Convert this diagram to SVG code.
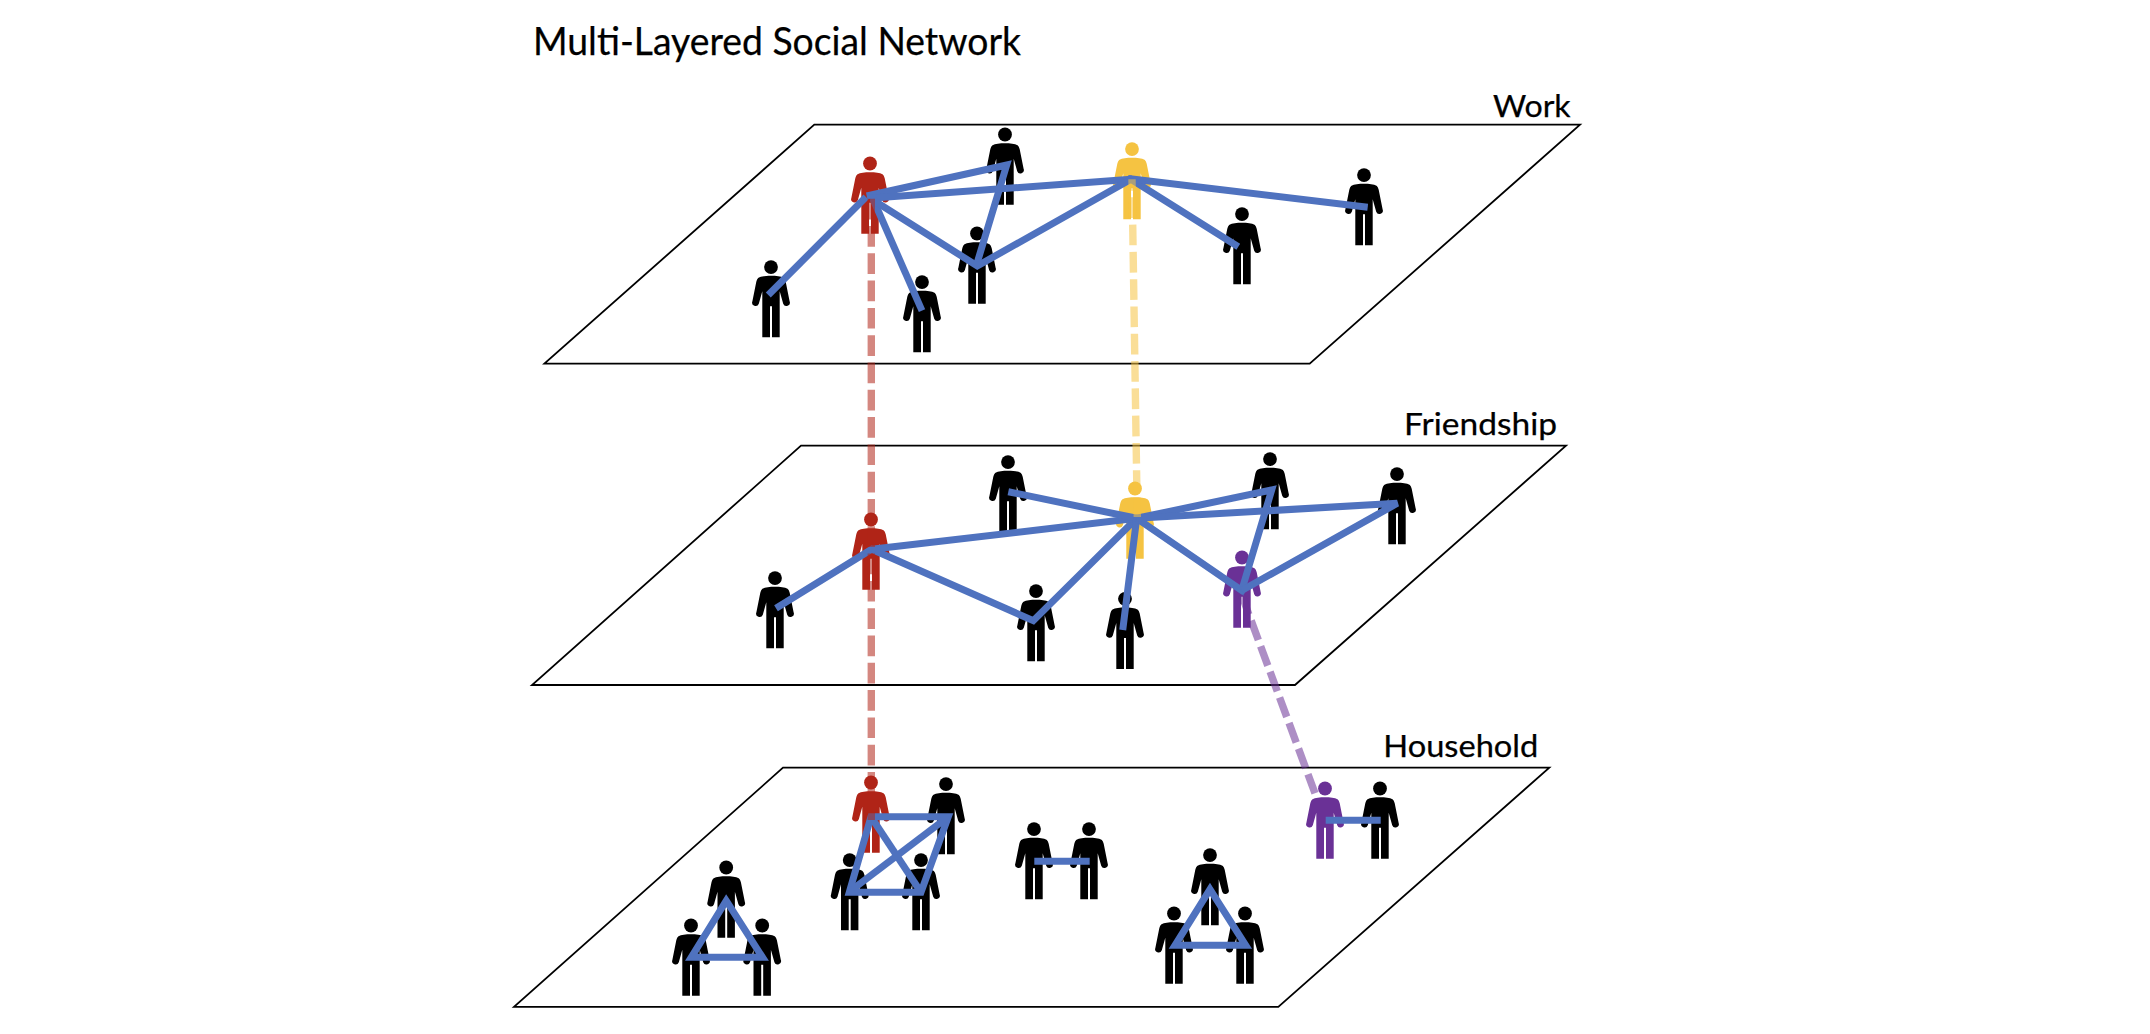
<svg xmlns="http://www.w3.org/2000/svg" xmlns:xlink="http://www.w3.org/1999/xlink" width="2150" height="1034" viewBox="0 0 2150 1034">
<style>
text{font-family:"Lato","Open Sans","Liberation Sans",sans-serif;fill:#000;stroke:#000;stroke-width:.25}
.plane{fill:none;stroke:#000;stroke-width:1.8}
.black{fill:#000}.red{fill:#b02417}.yellow{fill:#f5c342}.purple{fill:#6a3196}
.edge{fill:none;stroke:#4f72bf;stroke-width:7;stroke-linejoin:miter}
.dash{fill:none;stroke-width:7.4;stroke-dasharray:20.7 6.6;opacity:.55}
</style>
<defs>
<g id="person">
<circle cx="0" cy="6.8" r="6.9"/>
<path d="M0 15.5C5 15.5 10 16 12.5 17.5C13.5 18.2 14.2 19.5 14.7 21.5L18.6 41A3.3 3.3 0 0 1 12.2 43.5L8.7 31L8.7 77L1 77L1 46L-1 46L-1 77L-8.7 77L-8.7 31L-12.2 43.5A3.3 3.3 0 0 1 -18.6 41L-14.7 21.5C-14.2 19.5 -13.5 18.2 -12.5 17.5C-10 16 -5 15.5 0 15.5Z"/>
</g>
</defs>
<rect width="2150" height="1034" fill="#fff"/>
<text id="title" x="533" y="55" font-size="39" textLength="488" lengthAdjust="spacingAndGlyphs">Multi-Layered Social Network</text>
<g id="plane-work"><polygon class="plane" points="814.3,124.7 1580,124.7 1309.7,363.7 544.4,363.7"/><text x="1493" y="117.3" font-size="30.5" textLength="77.7" lengthAdjust="spacingAndGlyphs">Work</text></g>
<g id="plane-friendship"><polygon class="plane" points="801,445.7 1566,445.7 1295,685 532,685"/><text x="1404" y="435" font-size="30.5" textLength="153" lengthAdjust="spacingAndGlyphs">Friendship</text></g>
<g id="plane-household"><polygon class="plane" points="783,767.7 1549.3,767.7 1278.3,1006.8 514,1006.8"/><text x="1383.3" y="757.3" font-size="30.5" textLength="155" lengthAdjust="spacingAndGlyphs">Household</text></g>

<g id="w-red" class="red"><use xlink:href="#person" href="#person" x="870" y="156.7"/></g>
<g id="w-top" class="black"><use href="#person" x="1005" y="127.7"/></g>
<g id="w-yellow" class="yellow"><use href="#person" x="1132" y="142.3"/></g>
<g id="w-left" class="black"><use href="#person" x="771" y="260.3"/></g>
<g id="w-lower" class="black"><use href="#person" x="922" y="275.3"/></g>
<g id="w-mid" class="black"><use href="#person" x="977" y="226.7"/></g>
<g id="w-right1" class="black"><use href="#person" x="1242" y="207.3"/></g>
<g id="w-right2" class="black"><use href="#person" x="1364" y="168.3"/></g>

<g id="f-topleft" class="black"><use href="#person" x="1008" y="455.3"/></g>
<g id="f-red" class="red"><use href="#person" x="871" y="512.7"/></g>
<g id="f-left" class="black"><use href="#person" x="775" y="571.3"/></g>
<g id="f-lower" class="black"><use href="#person" x="1036" y="584.3"/></g>
<g id="f-lower2" class="black"><use href="#person" x="1125" y="592"/></g>
<g id="f-yellow" class="yellow"><use href="#person" x="1135" y="481.7"/></g>
<g id="f-purple" class="purple"><use href="#person" x="1242" y="550.7"/></g>
<g id="f-top" class="black"><use href="#person" x="1270" y="452.3"/></g>
<g id="f-right" class="black"><use href="#person" x="1397" y="467.3"/></g>

<g id="h-red" class="red"><use href="#person" x="871" y="775.7"/></g>
<g id="h-b1" class="black"><use href="#person" x="946" y="777.3"/></g>
<g id="h-b2" class="black"><use href="#person" x="849.7" y="853.3"/></g>
<g id="h-b3" class="black"><use href="#person" x="921" y="853.3"/></g>
<g id="h-c1" class="black"><use href="#person" x="1034" y="822.3"/></g>
<g id="h-c2" class="black"><use href="#person" x="1089" y="822.3"/></g>
<g id="h-d1" class="black"><use href="#person" x="1210" y="848.3"/></g>
<g id="h-d2" class="black"><use href="#person" x="1174" y="906.7"/></g>
<g id="h-d3" class="black"><use href="#person" x="1245" y="906.7"/></g>
<g id="h-purple" class="purple"><use href="#person" x="1325" y="781.7"/></g>
<g id="h-e" class="black"><use href="#person" x="1380" y="781.7"/></g>
<g id="h-a1" class="black"><use href="#person" x="726.2" y="860.7"/></g>
<g id="h-a2" class="black"><use href="#person" x="691" y="918.7"/></g>
<g id="h-a3" class="black"><use href="#person" x="762.2" y="918.7"/></g>

<g id="connectors">
<path class="edge" d="M866 197L768.3 295"/>
<path class="edge" d="M873 199L922 310.7"/>
<path class="edge" d="M866.7 196L1006.7 165L976 266.7"/>
<path class="edge" d="M870 198.3L1131 179.3"/>
<path class="edge" d="M873 200L977.3 266L1131 179.3L1238.3 246.7"/>
<path class="edge" d="M1128 178.5L1367.7 207.3"/>

<path class="edge" d="M776 608.3L871.7 549.3L1033.3 620.7L1136.7 518.3"/>
<path class="edge" d="M871.7 549.3L1136.7 518.3"/>
<path class="edge" d="M1008.3 491.7L1136.7 518.3"/>
<path class="edge" d="M1136.7 518.3L1122.7 630"/>
<path class="edge" d="M1136.7 518.3L1241.7 590.5L1271.7 490L1136.7 518.3"/>
<path class="edge" d="M1136.7 518.3L1397.3 503.3L1241.7 590.5"/>

<path class="edge" d="M871 816.7H948.3L921 892.3H849.3Z"/>
<path class="edge" d="M871 816.7L921 892.3"/>
<path class="edge" d="M948.3 816.7L849.3 891.7"/>
<path class="edge" d="M1034.3 861.3H1089.7"/>
<path class="edge" d="M1210 889.3L1245.7 945.3H1175Z"/>
<path class="edge" d="M1325.7 820.3H1380.7"/>
<path class="edge" d="M726.2 900.7L762.5 957.3H691.3Z"/>

<path class="dash" stroke="#b02417" d="M871.3 198.7V820"/>
<path class="dash" stroke="#f5c342" stroke-dashoffset="9.3" d="M1132 179.3L1137.3 517"/>
<path class="dash" stroke="#6a3196" d="M1241.7 595L1315 793.3"/>
</g>
</svg>
